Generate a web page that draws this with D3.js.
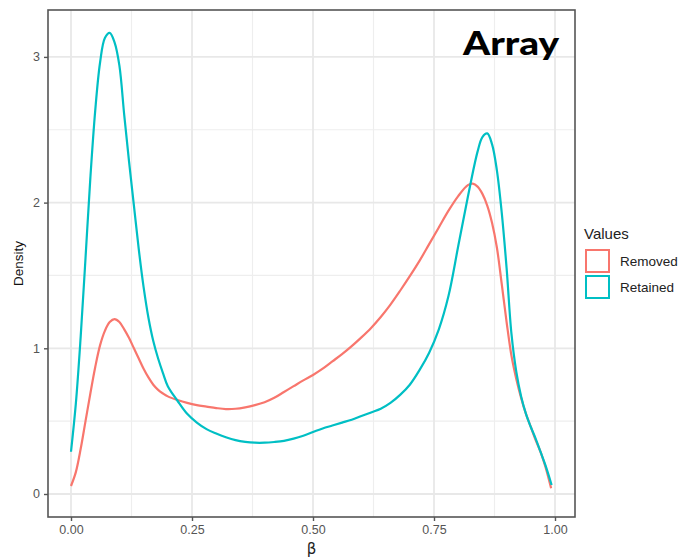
<!DOCTYPE html>
<html><head><meta charset="utf-8">
<script src="https://cdn.jsdelivr.net/npm/d3@7"></script>
<style>body{margin:0;background:#fff}</style>
</head><body>
<svg id="c" width="681" height="559"></svg>
<script>
const seriesNames = ["Removed", "Retained"];
const seriesColors = ["#F8766D", "#00BFC4"];
const removedX = [0.00,0.01,0.02,0.03,0.04,0.05,0.06,0.07,0.08,0.09,0.10,0.11,0.12,0.13,0.14,0.15,0.16,0.17,0.18,0.19,0.20,0.22,0.24,0.26,0.28,0.30,0.32,0.34,0.36,0.38,0.40,0.42,0.44,0.46,0.48,0.50,0.52,0.54,0.56,0.58,0.60,0.62,0.64,0.66,0.68,0.70,0.72,0.74,0.76,0.78,0.80,0.82,0.83,0.84,0.85,0.86,0.87,0.88,0.89,0.90,0.91,0.92,0.93,0.94,0.95,0.96,0.97,0.98,0.992];
const removedY = [0.055,0.15,0.31,0.50,0.69,0.87,1.02,1.12,1.18,1.20,1.18,1.13,1.07,1.00,0.93,0.86,0.80,0.75,0.715,0.69,0.67,0.645,0.625,0.61,0.60,0.59,0.583,0.585,0.595,0.61,0.63,0.66,0.70,0.74,0.78,0.817,0.86,0.91,0.96,1.015,1.075,1.14,1.215,1.30,1.395,1.495,1.60,1.715,1.83,1.945,2.045,2.12,2.13,2.11,2.06,1.98,1.86,1.69,1.44,1.18,0.95,0.79,0.66,0.55,0.46,0.37,0.29,0.19,0.04];
const retainedX = [0.00,0.01,0.02,0.03,0.04,0.05,0.06,0.07,0.08,0.09,0.10,0.11,0.12,0.13,0.14,0.15,0.16,0.17,0.18,0.19,0.20,0.22,0.24,0.26,0.28,0.30,0.32,0.34,0.36,0.38,0.40,0.42,0.44,0.46,0.48,0.50,0.52,0.54,0.56,0.58,0.60,0.62,0.64,0.66,0.68,0.70,0.72,0.74,0.76,0.78,0.80,0.82,0.84,0.85,0.86,0.87,0.88,0.89,0.90,0.91,0.92,0.93,0.94,0.95,0.96,0.97,0.98,0.993];
const retainedY = [0.29,0.62,1.08,1.62,2.17,2.63,2.96,3.13,3.165,3.10,2.94,2.60,2.28,1.98,1.68,1.42,1.21,1.05,0.93,0.83,0.74,0.64,0.55,0.49,0.445,0.415,0.39,0.37,0.358,0.352,0.352,0.357,0.365,0.38,0.40,0.425,0.45,0.47,0.49,0.51,0.535,0.56,0.585,0.625,0.68,0.75,0.85,0.97,1.13,1.36,1.70,2.04,2.35,2.45,2.475,2.40,2.22,1.93,1.55,1.10,0.84,0.67,0.55,0.46,0.38,0.29,0.20,0.062];
const xTicks = [0, 0.25, 0.5, 0.75, 1.0];
const xTickLabels = ["0.00", "0.25", "0.50", "0.75", "1.00"];
const xMinor = [0.125, 0.375, 0.625, 0.875];
const yTicks = [0, 1, 2, 3];
const yMinor = [0.5, 1.5, 2.5];

const svg = d3.select("#c");
const L = 48, R = 575, T = 10, B = 517;
const x = d3.scaleLinear().domain([-0.04752, 1.04132]).range([L, R]);
const y = d3.scaleLinear().domain([-0.1579, 3.322]).range([B, T]);

// grid
const g = svg.append("g");
g.selectAll(".vmin").data(xMinor).join("line").attr("x1", d => x(d)).attr("x2", d => x(d)).attr("y1", T).attr("y2", B).attr("stroke", "#eeeeee").attr("stroke-width", 1.2);
g.selectAll(".hmin").data(yMinor).join("line").attr("y1", d => y(d)).attr("y2", d => y(d)).attr("x1", L).attr("x2", R).attr("stroke", "#eeeeee").attr("stroke-width", 1.2);
g.selectAll(".vmaj").data(xTicks).join("line").attr("x1", d => x(d)).attr("x2", d => x(d)).attr("y1", T).attr("y2", B).attr("stroke", "#e8e8e8").attr("stroke-width", 1.8);
g.selectAll(".hmaj").data(yTicks).join("line").attr("y1", d => y(d)).attr("y2", d => y(d)).attr("x1", L).attr("x2", R).attr("stroke", "#e8e8e8").attr("stroke-width", 1.8);

// curves
const line = d3.line().x(d => x(d[0])).y(d => y(d[1])).curve(d3.curveCatmullRom.alpha(0.5));
const series = [d3.zip(removedX, removedY), d3.zip(retainedX, retainedY)];
series.forEach((s, i) => {
  svg.append("path").datum(s).attr("d", line).attr("fill", "none").attr("stroke", seriesColors[i]).attr("stroke-width", 2.2).attr("stroke-linejoin", "round");
});

// panel border
svg.append("rect").attr("x", L).attr("y", T).attr("width", R - L).attr("height", B - T).attr("fill", "none").attr("stroke", "#555").attr("stroke-width", 1.6);

// axes
const xa = svg.append("g").attr("transform", `translate(0,${B})`).call(d3.axisBottom(x).tickValues(xTicks).tickFormat((d, i) => xTickLabels[i]).tickSize(4).tickPadding(4));
const ya = svg.append("g").attr("transform", `translate(${L},0)`).call(d3.axisLeft(y).tickValues(yTicks).tickFormat(d3.format("d")).tickSize(4).tickPadding(4));
[xa, ya].forEach(a => {
  a.select(".domain").remove();
  a.selectAll(".tick line").attr("stroke", "#555").attr("stroke-width", 1.4);
  a.selectAll("text").attr("fill", "#555").attr("font-family", "Liberation Sans, Arial, sans-serif").attr("font-size", 12.5);
});

// axis titles
svg.append("text").attr("x", (L + R) / 2).attr("y", 554).attr("text-anchor", "middle").attr("font-family", "DejaVu Sans, sans-serif").attr("font-size", 15).attr("fill", "#222").text("β");
svg.append("text").attr("transform", `translate(23,${(T + B) / 2}) rotate(-90)`).attr("text-anchor", "middle").attr("font-family", "Liberation Sans, Arial, sans-serif").attr("font-size", 13.5).attr("fill", "#111").text("Density");

// legend
svg.append("text").attr("x", 584).attr("y", 239).attr("font-family", "Liberation Sans, Arial, sans-serif").attr("font-size", 15).attr("fill", "#222").text("Values");
seriesNames.forEach((n, i) => {
  svg.append("rect").attr("x", 586).attr("y", 250 + i * 26).attr("width", 23).attr("height", 22).attr("fill", "#fff").attr("stroke", seriesColors[i]).attr("stroke-width", 2);
  svg.append("text").attr("x", 620).attr("y", 261 + i * 26).attr("dy", "0.35em").attr("font-family", "Liberation Sans, Arial, sans-serif").attr("font-size", 13.5).attr("fill", "#222").text(n);
});

// title inside panel
svg.append("text").attr("x", 463).attr("y", 55).attr("font-family", "Lato, DejaVu Sans, sans-serif").attr("font-weight", 900).attr("font-size", 32).attr("fill", "#000").attr("textLength", 96).attr("lengthAdjust", "spacingAndGlyphs").text("Array");
</script>
</body></html>
